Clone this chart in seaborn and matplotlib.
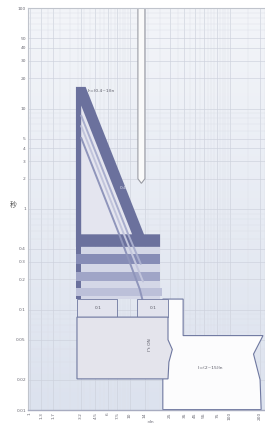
import numpy as np
import matplotlib
matplotlib.use("Agg")
import matplotlib.pyplot as plt
import seaborn as sns
from matplotlib.colors import LinearSegmentedColormap
from matplotlib.ticker import FixedLocator, NullFormatter, FixedFormatter, LogLocator

# ---------------- data (current: multiples of In, time: s) ----------------
y_ticks = [0.01, 0.02, 0.05, 0.1, 0.2, 0.3, 0.4, 1, 2, 3, 4, 5, 10, 20, 30, 40, 50, 100]
y_tick_labels = ["0.01", "0.02", "0.05", "0.1", "0.2", "0.3", "0.4", "1", "2", "3", "4",
                 "5", "10", "20", "30", "40", "50", "100"]
x_ticks = [1, 1.3, 1.7, 3.2, 4.5, 6, 7.5, 10, 14, 25, 35, 45, 55, 75, 100, 200]
x_tick_labels = ["1", "1.3", "1.7", "3.2", "4.5", "6", "7.5", "10", "14", "25", "35", "45",
                 "55", "75", "100", "200"]

# instantaneous (white) region
inst_I = [21.3, 21.3, 34.0, 34.0, 214, 172, 200, 205]
inst_t = [0.0101, 0.127, 0.127, 0.055, 0.055, 0.036, 0.02, 0.0101]

# long-time + short-time outer (dark) band
lt_I = [2.88, 3.6, 13.8, 20.0, 20.0, 2.88]
lt_t = [16.4, 16.4, 0.56, 0.56, 0.42, 0.42]
# pale interior of the long-time band
hole_I = [3.25, 10.5, 3.25]
hole_t = [10.7, 0.56, 0.56]
# left vertical strip
strip_I = [2.88, 3.25, 3.25, 2.88]
strip_t = [16.4, 16.4, 0.127, 0.127]
# short-time shelves (backdrop + three settings)
shelf_back_I = [2.88, 20.0, 20.0, 2.88]
shelf_back_t = [0.42, 0.42, 0.127, 0.127]
shelf_low = [0.285, 0.19, 0.135]
shelf_high = [0.36, 0.235, 0.165]
shelf_end = [20.0, 20.0, 21.0]
# inner long-time curves
d1_I = [3.25, 9.6, 12.8]
d1_t = [8.5, 0.56, 0.285]
d2_I = [3.25, 8.7, 13.5]
d2_t = [6.7, 0.56, 0.19]
d3_I = [3.25, 7.8, 12.5, 14.5]
d3_t = [5.1, 0.56, 0.16, 0.09]
# short-time setting boxes
boxL_I = [2.95, 7.4, 7.4, 2.95]
boxR_I = [11.7, 24.0, 24.0, 11.7]
box_t = [0.127, 0.127, 0.084, 0.084]
# I2t box
big_I = [2.95, 24.0, 24.0, 26.5, 24.5, 24.0, 2.95]
big_t = [0.084, 0.084, 0.05, 0.04, 0.03, 0.0204, 0.0204]
# hanging indicator
ind_I = [12.0, 12.0, 13.0, 14.1, 14.1]
ind_t = [101, 2.0, 1.8, 2.0, 101]

# ---------------- figure ----------------
sns.set_theme(style="whitegrid")
plt.rcParams['font.family'] = ['DejaVu Sans', 'Noto Sans CJK JP']

fig = plt.figure(figsize=(2.65, 4.25), dpi=100)
fig.patch.set_facecolor("white")
ax = fig.add_axes([28 / 265, 15 / 425, 237 / 265, 402 / 425])
ax.set_xscale("log")
ax.set_yscale("log")

grad = LinearSegmentedColormap.from_list("g", ["#dce2ee", "#f3f5f9"])
ax.imshow(np.linspace(0, 1, 256)[:, None], extent=(0, 1, 0, 1), transform=ax.transAxes,
          cmap=grad, origin="lower", aspect="auto", zorder=-2)

dark = "#6b719d"
edge = "#6f78a0"

ax.fill(inst_I, inst_t, facecolor="#fcfcfd", edgecolor=edge, lw=0.8, zorder=1)
ax.fill(shelf_back_I, shelf_back_t, facecolor="#d4d7e7", edgecolor="none", zorder=1.1)
ax.fill(lt_I, lt_t, facecolor=dark, edgecolor="none", zorder=1.2)
ax.fill(hole_I, hole_t, facecolor="#e4e5ef", edgecolor="none", zorder=1.3)
ax.fill(strip_I, strip_t, facecolor=dark, edgecolor="none", zorder=1.35)
for lo, hi, end, col in zip(shelf_low, shelf_high, shelf_end, ["#868cb6", "#a0a5c7", "#bcc0d9"]):
    ax.fill([2.88, end, end, 2.88], [hi, hi, lo, lo], facecolor=col, edgecolor="none", zorder=1.4)

for dI, dt, col in [(d1_I, d1_t, "#a9aece"), (d2_I, d2_t, "#c2c5dc"), (d3_I, d3_t, "#8f95bb")]:
    sns.lineplot(x=dI, y=dt, ax=ax, sort=False, estimator=None, color=col, lw=1.4, zorder=1.5)

ax.fill(boxL_I, box_t, facecolor="#e2e3ed", edgecolor=edge, lw=0.6, zorder=1.6)
ax.fill(boxR_I, box_t, facecolor="#e2e3ed", edgecolor=edge, lw=0.6, zorder=1.6)
ax.fill(big_I, big_t, facecolor="#e4e4ec", edgecolor=edge, lw=0.8, zorder=1.7)
ax.fill(ind_I, ind_t, facecolor="#fafafa", edgecolor="#9a9ca4", lw=0.8, zorder=1.8)

fs = 3.2
tc = "#5a5a66"
ax.text(3.8, 15.0, "Ir=(0.4~1)In", fontsize=fs, color=tc, va="center", zorder=3)
ax.text(63, 0.026, "Ii=(2~15)In", fontsize=fs, color=tc, ha="center", va="center", zorder=3)
ax.text(4.8, 0.103, "0.1", fontsize=fs, color=tc, ha="center", va="center", zorder=3)
ax.text(17.0, 0.103, "0.1", fontsize=fs, color=tc, ha="center", va="center", zorder=3)
ax.text(15.8, 0.045, "I²t ON", fontsize=fs, color=tc, rotation=90, ha="center", va="center", zorder=3)
ax.text(8.5, 1.6, "0.4", fontsize=fs, color="#e0e2ee", ha="center", va="center", zorder=3)

ax.set_xlim(0.955, 224)
ax.set_ylim(0.01, 100)
ax.set_autoscale_on(False)

ax.xaxis.set_major_locator(FixedLocator(x_ticks))
ax.xaxis.set_major_formatter(FixedFormatter(x_tick_labels))
ax.yaxis.set_major_locator(FixedLocator(y_ticks))
ax.yaxis.set_major_formatter(FixedFormatter(y_tick_labels))
ax.xaxis.set_minor_locator(LogLocator(base=10, subs=np.arange(1.0, 10.0, 0.5), numticks=30))
ax.yaxis.set_minor_locator(LogLocator(base=10, subs=np.arange(1.0, 10.0, 1.0), numticks=30))
ax.xaxis.set_minor_formatter(NullFormatter())
ax.yaxis.set_minor_formatter(NullFormatter())
ax.tick_params(axis="both", which="both", length=0, pad=1.5, labelsize=3.2, labelcolor="#6a6a74")
ax.tick_params(axis="x", labelrotation=90)
ax.grid(which="major", color="#cdd1dc", lw=0.45)
ax.grid(which="minor", color="#dcdfe7", lw=0.3)
ax.set_axisbelow(True)
for s in ["top", "left", "right"]:
    ax.spines[s].set_color("#c0c4cc")
    ax.spines[s].set_linewidth(0.8)
ax.spines["bottom"].set_color("#a8acc0")
ax.spines["bottom"].set_linewidth(1.0)

ax.set_ylabel("秒", fontsize=5, color="#555", rotation=0, labelpad=2,
              fontfamily=["Noto Sans CJK JP", "DejaVu Sans"])
ax.yaxis.set_label_coords(-0.06, 0.5)
ax.set_xlabel("")
fig.text(150 / 265, 1 / 425, "×In", fontsize=3.2, color="#6a6a74", ha="center", va="bottom")

fig.savefig("out.png", dpi=100, facecolor="white")
